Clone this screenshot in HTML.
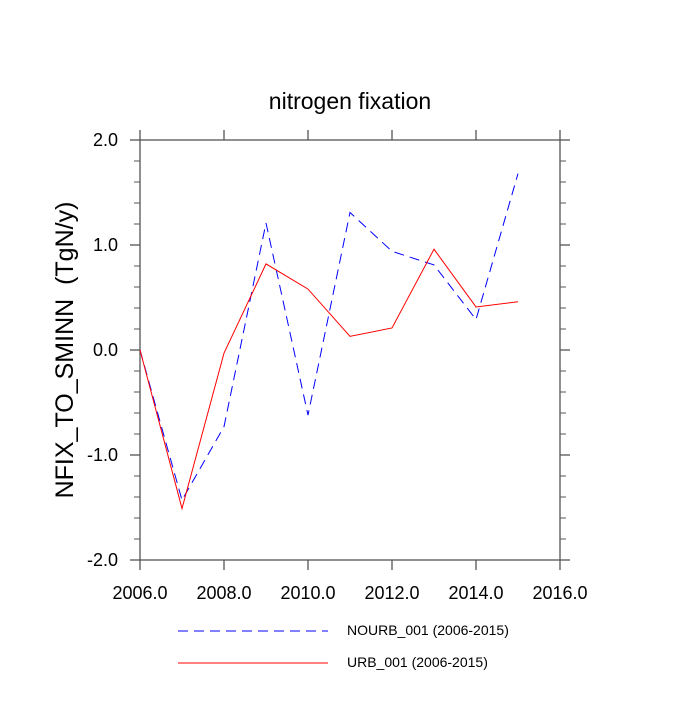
<!DOCTYPE html>
<html><head><meta charset="utf-8"><style>
body{margin:0;background:#fff;}
svg text{font-family:"Liberation Sans",Helvetica,sans-serif;fill:#000;}
</style></head><body>
<svg id="chart" width="700" height="700" xmlns="http://www.w3.org/2000/svg">
<text x="350" y="109" font-size="23" text-anchor="middle">nitrogen fixation</text>
<text transform="translate(73,350) rotate(-90)" font-size="25" text-anchor="middle" style="white-space:pre">NFIX_TO_SMINN  (TgN/y)</text>
<g id="axes"></g>
<g id="series"></g>
<g>
<line x1="178" y1="631" x2="328" y2="631" stroke="#0000ff" stroke-width="1" stroke-dasharray="10,6"/>
<text x="347" y="635" font-size="14">NOURB_001 (2006-2015)</text>
<line x1="178" y1="663" x2="328" y2="663" stroke="#ff0000" stroke-width="1"/>
<text x="347" y="667" font-size="14">URB_001 (2006-2015)</text>
</g>
</svg>
<script>
const years=[2006,2007,2008,2009,2010,2011,2012,2013,2014,2015];
const nourb=[0.0,-1.43,-0.73,1.21,-0.62,1.31,0.94,0.81,0.29,1.68];
const urb=[0.0,-1.51,-0.03,0.82,0.58,0.13,0.21,0.96,0.41,0.46];
const xTicks=[2006,2008,2010,2012,2014,2016];
const yTicks=[-2,-1,0,1,2];
const X0=140,X1=560,Y0=560,Y1=140;
const xs=v=>X0+(v-2006)/10*(X1-X0);
const ys=v=>Y0-(v+2)/4*(Y0-Y1);
const NS="http://www.w3.org/2000/svg";
const axes=document.getElementById('axes');
function mk(tag,attrs,parent){const e=document.createElementNS(NS,tag);for(const k in attrs)e.setAttribute(k,attrs[k]);parent.appendChild(e);return e;}
const frame=mk('rect',{x:X0,y:Y1,width:X1-X0,height:Y0-Y1,fill:'none',stroke:'#555','stroke-width':1.3},axes);


xTicks.forEach(t=>{
  const x=xs(t);
  const a=mk('line',{x1:x,y1:Y0,x2:x,y2:Y0+10,stroke:'#555','stroke-width':1.3},axes);
  
  
  const b=mk('line',{x1:x,y1:Y1,x2:x,y2:Y1-10,stroke:'#555','stroke-width':1.3},axes);
  
  
  const l=mk('text',{x:x,y:Y0+39,'font-size':18,'text-anchor':'middle'},axes);
  l.textContent=t.toFixed(1);
  
  
});
for(let i=0;i<=20;i++){
  const v=-2+i*0.2;const y=ys(v);const major=i%5===0;const len=major?10:6;
  const a=mk('line',{x1:X0,y1:y,x2:X0-len,y2:y,stroke:'#555','stroke-width':major?1.3:1},axes);
  
  
  const b=mk('line',{x1:X1,y1:y,x2:X1+len,y2:y,stroke:'#555','stroke-width':major?1.3:1},axes);
  
  
}
yTicks.forEach(t=>{
  const l=mk('text',{x:X0-22,y:ys(t)+6,'font-size':18,'text-anchor':'end'},axes);
  l.textContent=t.toFixed(1);
  
  
});
const ser=document.getElementById('series');
function pts(arr){return arr.map((v,i)=>xs(years[i])+','+ys(v)).join(' ');}
const p1=mk('polyline',{points:pts(nourb),fill:'none',stroke:'#0000ff','stroke-width':1,'stroke-dasharray':'10,6'},ser);


const p2=mk('polyline',{points:pts(urb),fill:'none',stroke:'#ff0000','stroke-width':1},ser);


</script>
</body></html>
